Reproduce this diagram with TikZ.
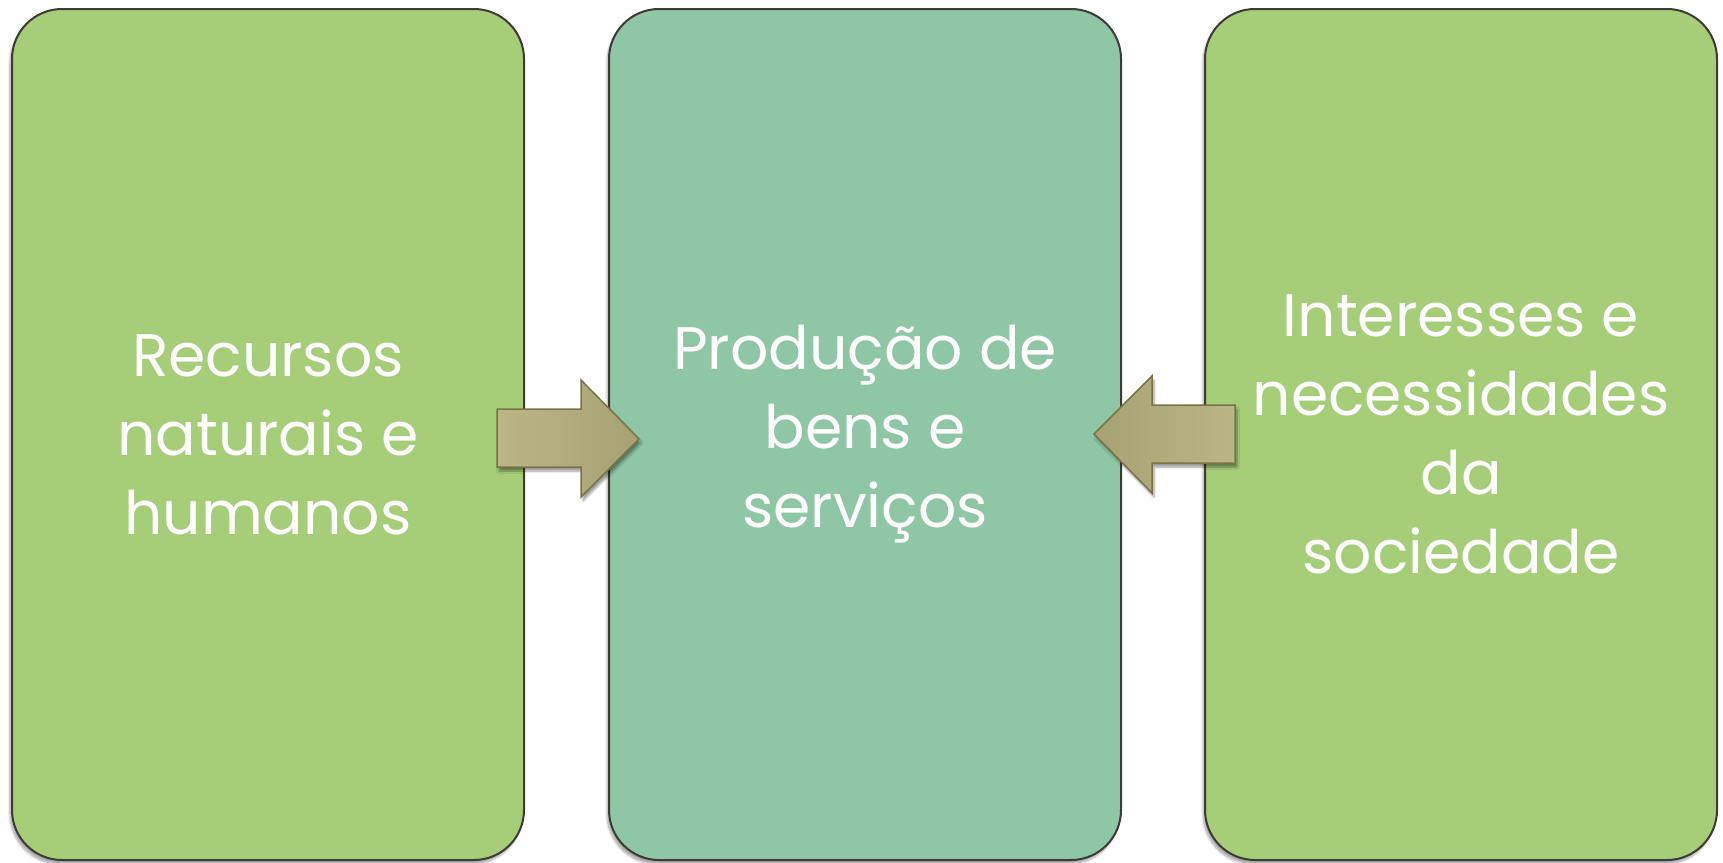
\documentclass[tikz,border=0pt]{standalone}
\usepackage{fontspec}
\setmainfont{Poppins}
\usetikzlibrary{shadows.blur}
\definecolor{boxgreen}{HTML}{A6CD78}
\definecolor{boxteal}{HTML}{8FC7A6}
\definecolor{boxline}{HTML}{3E3A36}
\definecolor{arrowA}{HTML}{BAB688}
\definecolor{arrowB}{HTML}{A6A274}
\definecolor{arrowline}{HTML}{7A7444}
\tikzset{
  panel/.style={draw=boxline, line width=2pt, rounded corners=50pt,
    minimum width=512pt, minimum height=851pt, inner sep=0pt,
    anchor=north west, text=white, align=center,
    font=\fontsize{60}{79}\selectfont,
    blur shadow={shadow xshift=-2pt, shadow yshift=-4pt, shadow blur steps=8, shadow opacity=35}},
  blockarrow/.style={draw=arrowline, line width=1.5pt, line join=miter,
    left color=arrowA, right color=arrowB,
    blur shadow={shadow xshift=2pt, shadow yshift=-4pt, shadow blur steps=6, shadow opacity=40}},
  blockarrowrev/.style={draw=arrowline, line width=1.5pt, line join=miter,
    left color=arrowB, right color=arrowA,
    blur shadow={shadow xshift=2pt, shadow yshift=-4pt, shadow blur steps=6, shadow opacity=40}}
}
\begin{document}
\begin{tikzpicture}[x=1pt,y=-1pt]
\useasboundingbox (0,0) rectangle (1723,862);
\node[panel, fill=boxgreen] (b1) at (11,8) {Recursos\\naturais e\\humanos};
\node[panel, fill=boxteal] (b2) at (608,8) {Produção de\\bens e\\serviços};
\node[panel, fill=boxgreen] (b3) at (1204,8) {Interesses e\\necessidades\\da\\sociedade};
% arrow from b1 to b2
\draw[blockarrow] (497,409) -- (581,409) -- (581,380) -- (639,439) -- (581,497) -- (581,467) -- (497,467) -- cycle;
% arrow from b3 to b2
\draw[blockarrowrev] (1235,405) -- (1152,405) -- (1152,376) -- (1094,434) -- (1152,493) -- (1152,463) -- (1235,463) -- cycle;
\end{tikzpicture}
\end{document}
